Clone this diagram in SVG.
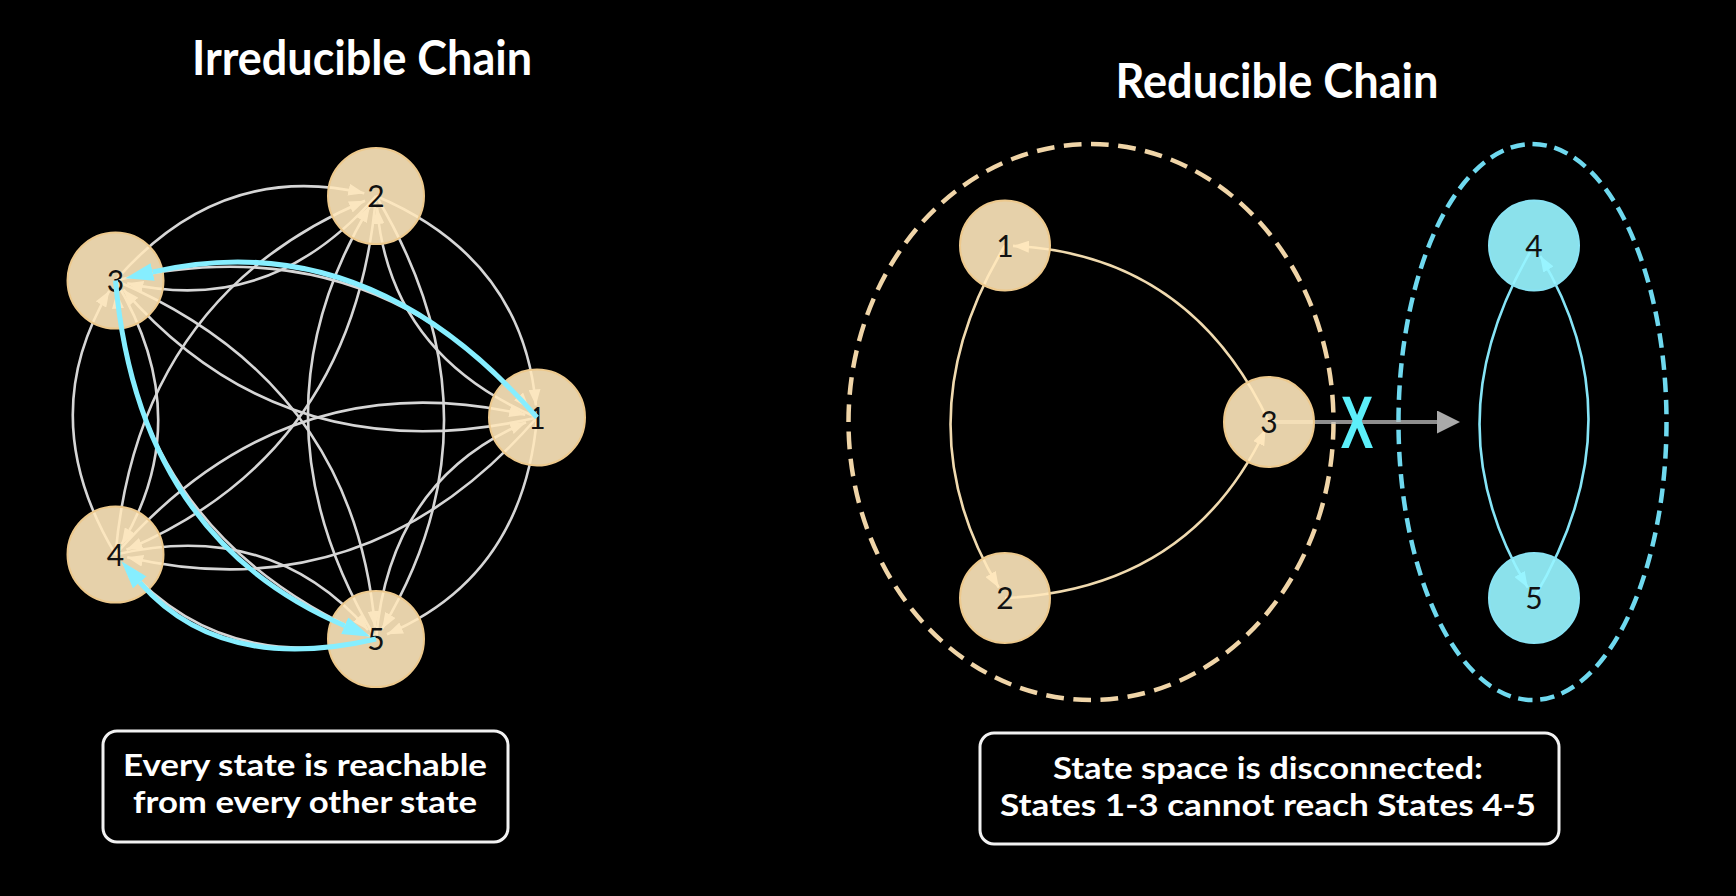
<svg xmlns="http://www.w3.org/2000/svg" width="1736" height="896" viewBox="0 0 1736 896">
<defs>
<style>
.title{font-family:Lato,"Open Sans","DejaVu Sans",sans-serif;font-weight:700;fill:#ffffff;font-size:48px;text-anchor:middle}
.note{font-family:Lato,"Open Sans","DejaVu Sans",sans-serif;font-weight:700;fill:#ffffff;font-size:30px;text-anchor:middle}
.box{fill:#000000;stroke:#f2f2f2;stroke-width:3}
.e-gray{fill:none;stroke:#d6d6d6;stroke-width:2.6;marker-end:url(#ah-gray)}
.e-cyan{fill:none;stroke:#86EEFF;stroke-width:5;marker-end:url(#ah-cyan)}
.e-tan{fill:none;stroke:#F0DAAF;stroke-width:2.6;marker-end:url(#ah-tan)}
.e-blue{fill:none;stroke:#86E4F6;stroke-width:2.6;marker-end:url(#ah-blue)}
.n-tan circle{fill:#FFE8BC;fill-opacity:0.9;stroke:#EDC98D;stroke-width:2}
.n-blue circle{fill:#97F4FF;fill-opacity:0.92;stroke:#8AE3F3;stroke-width:2}
.lbl{font-family:Lato,"DejaVu Sans",sans-serif;font-size:30px;fill:#111111;text-anchor:middle}
.dash-tan{fill:none;stroke:#F0D5A8;stroke-width:4.5;stroke-dasharray:6.5 3.5}
.dash-blue{fill:none;stroke:#6FD9EF;stroke-width:4.5;stroke-dasharray:6.5 3.5}
</style>
<marker id="ah-gray" markerUnits="userSpaceOnUse" viewBox="0 0 16 12" markerWidth="16" markerHeight="12" refX="16" refY="6" orient="auto"><path d="M0,0 L16,6 L0,12 z" fill="#d6d6d6"/></marker>
<marker id="ah-tan" markerUnits="userSpaceOnUse" viewBox="0 0 16 12" markerWidth="16" markerHeight="12" refX="16" refY="6" orient="auto"><path d="M0,0 L16,6 L0,12 z" fill="#F5E2BE"/></marker>
<marker id="ah-blue" markerUnits="userSpaceOnUse" viewBox="0 0 16 12" markerWidth="16" markerHeight="12" refX="16" refY="6" orient="auto"><path d="M0,0 L16,6 L0,12 z" fill="#A6EEFA"/></marker>
<marker id="ah-cyan" markerUnits="userSpaceOnUse" viewBox="0 0 28 18" markerWidth="28" markerHeight="18" refX="0" refY="9" orient="auto"><path d="M0,0 L28,9 L0,18 z" fill="#86EEFF"/></marker>
<marker id="ah-block" markerUnits="userSpaceOnUse" viewBox="0 0 23 23" markerWidth="23" markerHeight="23" refX="0" refY="11.5" orient="auto"><path d="M0,0 L23,11.5 L0,23 z" fill="#C8C8C8" fill-opacity="0.85"/></marker>
</defs>
<rect x="0" y="0" width="1736" height="896" fill="#000000"/>

<text class="title" x="362" y="75" textLength="340" lengthAdjust="spacingAndGlyphs">Irreducible Chain</text>
<text class="title" x="1277" y="98" textLength="323" lengthAdjust="spacingAndGlyphs">Reducible Chain</text>

<g id="connectors-irreducible">
<path class="e-gray" d="M537,417.5 Q390.05,355.05 377.1,208"/>
<path class="e-gray" d="M376,196 Q522.95,258.45 535.9,405.5"/>
<path class="e-gray" d="M537,417.5 Q285.15,475.45 123.4,289.6"/>
<path class="e-gray" d="M115.5,280.5 Q367.35,222.55 529.1,408.5"/>
<path class="e-gray" d="M537,417.5 Q367.35,612.45 127.2,557.2"/>
<path class="e-gray" d="M115.5,554.5 Q285.15,359.55 525.3,414.8"/>
<path class="e-gray" d="M537,417.5 Q522.95,576.55 387,634.3"/>
<path class="e-gray" d="M376,639 Q390.05,479.95 526,422.2"/>
<path class="e-gray" d="M376,196 Q271.1,316.4 127.2,283.2"/>
<path class="e-gray" d="M115.5,280.5 Q220.4,160.1 364.3,193.3"/>
<path class="e-gray" d="M376,196 Q353.3,453.4 126.5,549.8"/>
<path class="e-gray" d="M115.5,554.5 Q138.2,297.1 365,200.7"/>
<path class="e-gray" d="M376,196 Q508.9,417.5 382.2,628.7"/>
<path class="e-gray" d="M376,639 Q243.1,417.5 369.8,206.3"/>
<path class="e-gray" d="M115.5,280.5 Q197.7,417.5 121.7,544.2"/>
<path class="e-gray" d="M115.5,554.5 Q33.3,417.5 109.3,290.8"/>
<path class="e-gray" d="M115.5,280.5 Q353.3,381.6 375,627.1"/>
<path class="e-gray" d="M376,639 Q138.2,537.9 116.6,292.5"/>
<path class="e-gray" d="M115.5,554.5 Q271.1,518.6 368.1,630"/>
<path class="e-gray" d="M376,639 Q220.4,674.9 123.4,563.6"/>
</g>

<g id="irr-1" class="n-tan"><circle cx="537" cy="417.5" r="48"/><text class="lbl" x="537" y="428.5">1</text></g>
<g id="irr-2" class="n-tan"><circle cx="376" cy="196" r="48"/><text class="lbl" x="376" y="207">2</text></g>
<g id="irr-3" class="n-tan"><circle cx="115.5" cy="280.5" r="48"/><text class="lbl" x="115.5" y="291.5">3</text></g>
<g id="irr-4" class="n-tan"><circle cx="115.5" cy="554.5" r="48"/><text class="lbl" x="115.5" y="565.5">4</text></g>
<g id="irr-5" class="n-tan"><circle cx="376" cy="639" r="48"/><text class="lbl" x="376" y="650">5</text></g>

<g id="connectors-highlight">
<path class="e-cyan" d="M537,417.5 Q367.35,222.55 152.6,272"/>
<path class="e-cyan" d="M115.5,280.5 Q138.2,537.9 344.7,625.7"/>
<path class="e-cyan" d="M376,639 Q220.4,674.9 139.8,582.4"/>
</g>

<g id="note-irreducible">
<rect class="box" x="103" y="731" width="405" height="111" rx="14"/>
<text class="note" x="305" y="776" textLength="364" lengthAdjust="spacingAndGlyphs">Every state is reachable</text>
<text class="note" x="305" y="813" textLength="344" lengthAdjust="spacingAndGlyphs">from every other state</text>
</g>

<g id="class-1-3"><ellipse class="dash-tan" cx="1091" cy="422" rx="242.5" ry="278" pathLength="600"/></g>
<g id="class-4-5"><ellipse class="dash-blue" cx="1532.5" cy="422" rx="134" ry="278" pathLength="600"/></g>

<g id="connectors-reducible">
<path d="M1269,422 L1437,422" fill="none" stroke="#BDBDBD" stroke-opacity="0.75" stroke-width="4" marker-end="url(#ah-block)"/>
<path class="e-tan" d="M1269,422 Q1189.95,254.55 1013,245.9"/>
<path class="e-tan" d="M1005,245.5 Q899.25,421.75 998.8,587.7"/>
<path class="e-tan" d="M1005,598 Q1189.95,589.45 1265.6,429.2"/>
<path class="e-blue" d="M1534,245.5 Q1428.25,421.75 1527.8,587.7"/>
<path class="e-blue" d="M1534,598 Q1639.75,421.75 1540.2,255.8"/>
</g>

<g id="red-1" class="n-tan"><circle cx="1005" cy="245.5" r="45"/><text class="lbl" x="1005" y="256.5">1</text></g>
<g id="red-2" class="n-tan"><circle cx="1005" cy="598" r="45"/><text class="lbl" x="1005" y="609">2</text></g>
<g id="red-3" class="n-tan"><circle cx="1269" cy="422" r="45"/><text class="lbl" x="1269" y="433">3</text></g>
<g id="red-4" class="n-blue"><circle cx="1534" cy="245.5" r="45"/><text class="lbl" x="1534" y="256.5">4</text></g>
<g id="red-5" class="n-blue"><circle cx="1534" cy="598" r="45"/><text class="lbl" x="1534" y="609">5</text></g>

<g id="blocked-mark"><text x="0" y="0" transform="translate(1357,448) scale(0.66,1)" font-family="'Liberation Sans',Arial,sans-serif" font-size="74" font-weight="700" text-anchor="middle" fill="#5CEFFA">X</text></g>

<g id="note-reducible">
<rect class="box" x="980" y="733" width="579" height="111" rx="14"/>
<text class="note" x="1268" y="779" textLength="430" lengthAdjust="spacingAndGlyphs">State space is disconnected:</text>
<text class="note" x="1268" y="816" textLength="536" lengthAdjust="spacingAndGlyphs">States 1-3 cannot reach States 4-5</text>
</g>
</svg>
